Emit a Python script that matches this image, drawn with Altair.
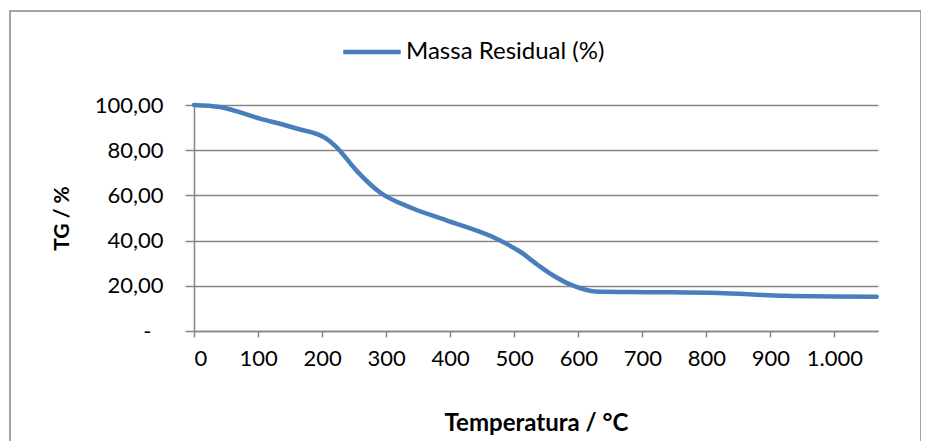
import altair as alt
import pandas as pd

temperature = [0, 40, 103, 160, 206, 222, 253, 289, 341, 393, 465, 491, 507, 537, 559, 595, 626, 714, 818, 922, 1066]
residual = [100, 99.1, 94.0, 89.6, 85.2, 81.5, 71.2, 61.6, 54.3, 49.1, 41.8, 38.1, 35.5, 29.2, 24.9, 19.7, 17.5, 17.2, 16.8, 15.6, 15.2]
series_name = "Massa Residual (%)"
x_ticks = [0, 100, 200, 300, 400, 500, 600, 700, 800, 900, 1000]
y_ticks = [0, 20, 40, 60, 80, 100]

df = pd.DataFrame({"T": temperature, "TG": residual, "s": [series_name] * len(temperature)})

FONT = "Lato"
GRAY = "#868686"
BLUE = "#4A7EBB"

line = alt.Chart(df).mark_line(interpolate="monotone", strokeWidth=4.5, strokeCap="round").encode(
    x=alt.X("T:Q", scale=alt.Scale(domain=[0, 1068], nice=False, zero=False),
            axis=alt.Axis(values=x_ticks, title="Temperatura / °C", grid=False,
                          labelExpr="replace(format(datum.value, ','), ',', '.')",
                          titlePadding=42, labelPadding=11, tickSize=6, titleFontSize=24)),
    y=alt.Y("TG:Q", scale=alt.Scale(domain=[0, 100], nice=False),
            axis=alt.Axis(values=y_ticks, title="TG / %", grid=True,
                          labelExpr="datum.value == 0 ? '-' : replace(format(datum.value, '.2f'), '.', ',')",
                          titlePadding=22, tickSize=9, titleFontSize=21,
                          labelPadding={"condition": {"test": "datum.value == 0", "value": 34}, "value": 22})),
    color=alt.Color("s:N", scale=alt.Scale(range=[BLUE]),
                    legend=alt.Legend(title=None, orient="none", legendX=147, legendY=-84,
                                      symbolType="stroke", symbolSize=3300, symbolStrokeWidth=4.5,
                                      labelFontSize=24, labelFont=FONT, labelColor="black",
                                      labelOffset=3, labelLimit=500, padding=0)),
)

frame = alt.Chart(pd.DataFrame({"a": [0]})).mark_rect(fillOpacity=0, stroke=GRAY, strokeWidth=1.5).encode(
    x=alt.value(-184), x2=alt.value(727), y=alt.value(-94), y2=alt.value(420)
)

chart = alt.layer(frame, line).properties(
    width=684, height=226,
    autosize=alt.AutoSizeParams(type="none"),
    padding={"left": 186, "top": 97, "right": 43, "bottom": 110},
).configure_view(stroke=None).configure_axis(
    domainColor=GRAY, tickColor=GRAY, gridColor=GRAY, domainWidth=1.5, tickWidth=1.5, gridWidth=1.5,
    labelFont=FONT, titleFont=FONT, labelFontSize=22, titleFontSize=22, labelColor="black",
    titleColor="black", titleFontWeight="bold"
)

chart.save("out.html", embed_options={"renderer": "svg", "actions": False})
